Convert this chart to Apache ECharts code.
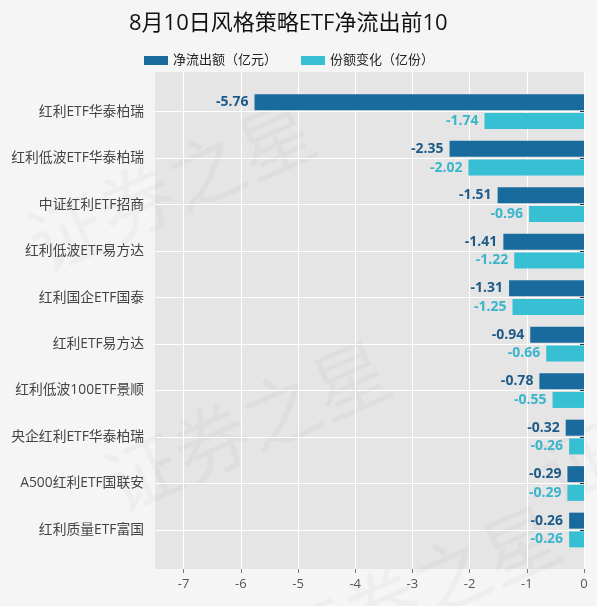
<!DOCTYPE html>
<html>
<head>
<meta charset="utf-8">
<script src="https://cdn.jsdelivr.net/npm/echarts@6/dist/echarts.min.js"></script>
<style>
  html, body { margin: 0; padding: 0; background: #f5f5f5; }
  #container { width: 597px; height: 606px; }
</style>
</head>
<body>
<div id="container"></div>
<script>
var categories = ['红利ETF华泰柏瑞', '红利低波ETF华泰柏瑞', '中证红利ETF招商', '红利低波ETF易方达',
    '红利国企ETF国泰', '红利ETF易方达', '红利低波100ETF景顺', '央企红利ETF华泰柏瑞',
    'A500红利ETF国联安', '红利质量ETF富国'];
var netOutflow = [-5.76, -2.35, -1.51, -1.41, -1.31, -0.94, -0.78, -0.32, -0.29, -0.26];
var shareChange = [-1.74, -2.02, -0.96, -1.22, -1.25, -0.66, -0.55, -0.26, -0.29, -0.26];
var seriesNames = ['净流出额（亿元）', '份额变化（亿份）'];
var xTicks = [-7, -6, -5, -4, -3, -2, -1, 0];

var font = '"Open Sans", "Noto Sans CJK SC", sans-serif';
var dark = '#186b9c';
var light = '#37bfd3';

var dom = document.getElementById('container');
var chart = echarts.init(dom, null, { renderer: 'canvas' });

function watermark(x, y) {
    return {
        type: 'text',
        x: x,
        y: y,
        rotation: 0.42,
        silent: true,
        style: {
            text: '证券之星',
            fontSize: 76,
            fontFamily: font,
            fill: 'rgba(0,0,0,0.028)'
        }
    };
}

var option = {
    backgroundColor: '#f5f5f5',
    animation: false,
    title: {
        text: '8月10日风格策略ETF净流出前10',
        left: 124,
        top: 8,
        textStyle: { fontFamily: font, fontSize: 22, fontWeight: 'normal', color: '#111' }
    },
    legend: {
        left: 139,
        top: 49,
        itemWidth: 24,
        itemHeight: 9,
        itemGap: 24,
        icon: 'rect',
        textStyle: { fontFamily: font, fontSize: 13, color: '#222' },
        data: seriesNames
    },
    graphic: [watermark(20, 220), watermark(95, 460), watermark(265, 625), watermark(530, 450)],
    grid: [
        { left: 155, right: 13, top: 72, bottom: 37, show: true, backgroundColor: '#e5e5e5', borderWidth: 0 },
        { left: 155, right: 13, top: 111.7, bottom: 76 }
    ],
    xAxis: [
        {
            gridIndex: 0,
            type: 'value',
            min: -7.5,
            max: 0,
            splitNumber: 8,
            axisLine: { show: false },
            axisTick: { show: true, length: 4, customValues: xTicks, lineStyle: { color: '#777' } },
            axisLabel: {
                margin: 9,
                customValues: xTicks,
                fontFamily: font,
                fontSize: 13,
                color: '#555'
            },
            splitLine: { show: true, lineStyle: { color: '#fff', width: 1 } }
        },
        { gridIndex: 1, type: 'value', min: -7.5, max: 0, show: false }
    ],
    yAxis: [
        { gridIndex: 0, type: 'value', show: false },
        {
            gridIndex: 1,
            type: 'category',
            inverse: true,
            boundaryGap: false,
            data: categories,
            axisLine: { show: false },
            axisTick: { show: true, length: 4, lineStyle: { color: '#333' } },
            axisLabel: { margin: 11, fontFamily: font, fontSize: 13.8, color: '#444' },
            splitLine: { show: true, lineStyle: { color: '#fff', width: 1 } }
        }
    ],
    series: [
        {
            name: seriesNames[0],
            type: 'bar',
            xAxisIndex: 1,
            yAxisIndex: 1,
            data: netOutflow,
            barWidth: 16,
            barGap: '17%',
            clip: false,
            itemStyle: { color: dark },
            label: {
                show: true,
                position: 'left',
                distance: 6,
                fontFamily: font,
                fontSize: 14,
                fontWeight: 'bold',
                color: '#1d5b88'
            }
        },
        {
            name: seriesNames[1],
            type: 'bar',
            xAxisIndex: 1,
            yAxisIndex: 1,
            data: shareChange,
            barWidth: 16,
            clip: false,
            itemStyle: { color: light },
            label: {
                show: true,
                position: 'left',
                distance: 6,
                fontFamily: font,
                fontSize: 14,
                fontWeight: 'bold',
                color: '#3ab5cb'
            }
        }
    ]
};

chart.setOption(option);
window.addEventListener('resize', chart.resize);
</script>
</body>
</html>
